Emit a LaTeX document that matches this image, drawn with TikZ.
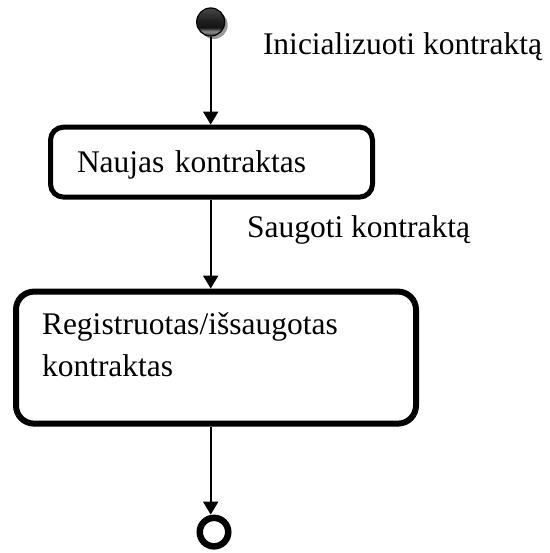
\documentclass[tikz,border=0pt]{standalone}
\usepackage{fontspec}
\setmainfont{Liberation Serif}
\usepackage{tikz}
\usetikzlibrary{arrows.meta,positioning,shadows,shapes}

\pgfdeclareverticalshading{ballshade}{100bp}{color(0bp)=(black!80); color(25bp)=(black!80); color(33bp)=(black!45); color(40bp)=(black!92); color(52bp)=(black!88); color(75bp)=(black!72); color(100bp)=(black!72)}

\begin{document}
\begin{tikzpicture}[->,>={Triangle[length=13pt,width=15pt]},line width=2pt,
x=1pt,y=-1pt,font=\fontsize{31.5}{42}\selectfont]
\tikzstyle{initial}=[circle,draw=black,line width=1.2pt,minimum size=28pt,inner sep=0pt,
  shade,shading=ballshade,drop shadow={shadow xshift=3pt,shadow yshift=-3pt,fill=black!40,opacity=1}]
\tikzstyle{final}=[circle,draw=black,line width=6.5pt,minimum size=28.5pt,inner sep=0pt,fill=white]
\tikzstyle{statebox}=[rectangle,draw=black,fill=white,align=left,inner ysep=0pt]
\tikzstyle{lbl}=[anchor=base west,inner sep=0pt]
\useasboundingbox (0,0) rectangle (549,553);
\node[initial] (init) at (210.7,22) {};
\node[statebox,line width=5pt,rounded corners=13pt,minimum width=322pt,minimum height=70pt,
  text width=269pt,inner xsep=26.5pt,text height=35pt,text depth=14pt]
  (new) [below=88pt of init,xshift=0.8pt] {Naujas kontraktas};
\node[statebox,line width=6pt,rounded corners=18pt,minimum width=400pt,minimum height=132pt,
  text width=348pt,inner xsep=26pt,text height=30pt,text depth=76pt]
  (reg) [below=89pt of new,xshift=4.5pt] {Registruotas/išsaugotas\\kontraktas};
\node[final] (final) [below=88pt of reg,xshift=-2pt] {};
\node[lbl] (initlbl) at (262,55) {Inicializuoti kontraktą};
\node[lbl] (savelbl) at (246,237) {Saugoti kontraktą};
\path (init) edge (new.north -| init)
      (new.south -| init) edge (reg.north -| init)
      (reg.south -| init) edge (final.north -| init);
\end{tikzpicture}
\end{document}
